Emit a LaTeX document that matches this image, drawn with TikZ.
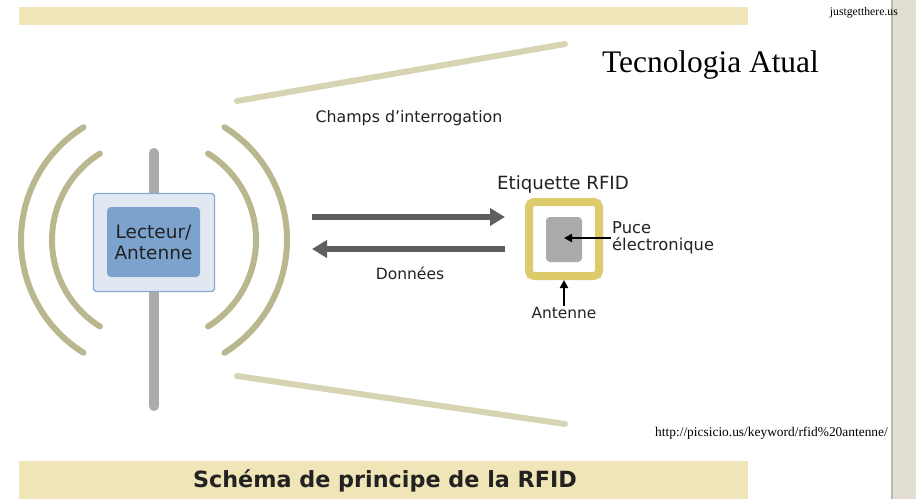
\documentclass[tikz,border=0pt]{standalone}
\usepackage{fontspec}
\setmainfont{Liberation Serif}
\newfontfamily\labfont{DejaVu Sans}
\usetikzlibrary{arrows.meta}

\definecolor{bandyellow}{HTML}{EFE5B7}
\definecolor{beam}{HTML}{D7D4B4}
\definecolor{wave}{HTML}{B8B78E}
\definecolor{polegray}{HTML}{ABABAB}
\definecolor{readerout}{HTML}{E2E8F2}
\definecolor{readerline}{HTML}{84A9D4}
\definecolor{readerin}{HTML}{7CA3CD}
\definecolor{arrowgray}{HTML}{5F5F5F}
\definecolor{tagyellow}{HTML}{DDCB6B}
\definecolor{chipgray}{HTML}{ABABAB}
\definecolor{sidebar}{HTML}{E3DED3}
\definecolor{sideedge}{HTML}{BDB8AD}
\definecolor{ink}{HTML}{222222}

\tikzset{
  sanslabel/.style={font=\labfont\fontsize{#1}{#1}\selectfont, text=ink, inner sep=1pt},
  beamline/.style={beam, line width=6, line cap=round},
  waveline/.style={wave, line width=6, line cap=round},
  flowarrow/.style={arrowgray, line width=6,
    -{Triangle[length=15pt,width=17pt]}, shorten >=-2pt},
  pointer/.style={black, line width=2.2, -{Triangle[length=8pt,width=8pt]}},
}

\begin{document}
\begin{tikzpicture}[x=1pt,y=-1pt]
\useasboundingbox (0,0) rectangle (916,499);
\fill[white] (0,0) rectangle (916,499);

% header and footer bands
\fill[bandyellow] (19,7) rectangle (748,25);
\fill[bandyellow] (19,461) rectangle (748,499);

% right margin bar
\fill[sidebar] (891,0) rectangle (916,499);
\fill[sideedge] (891,0) rectangle (893,499);

\node[font=\fontsize{11.7}{13}\selectfont, anchor=east, inner sep=0pt] (site) at (898,13) {justgetthere.us};
\node[font=\fontsize{31.4}{36}\selectfont, inner sep=0pt] (title) at (710.5,65) {Tecnologia Atual};

% interrogation field borders
\draw[beamline] (237,101) -- (565,44);
\draw[beamline] (237,376) -- (565,424);
\node[sanslabel=15.8] (field) at (409,118) {Champs d’interrogation};

% radiated waves around the reader
\coordinate (wc) at (154,240);
\draw[waveline] (wc) ++(122:133pt) arc[start angle=122, end angle=238, radius=133pt];
\draw[waveline] (wc) ++(-58:133pt) arc[start angle=-58, end angle=58, radius=133pt];
\draw[waveline] (wc) ++(122:102pt) arc[start angle=122, end angle=238, radius=102pt];
\draw[waveline] (wc) ++(-58:102pt) arc[start angle=-58, end angle=58, radius=102pt];

% reader mast and box
\coordinate (mtop) at (154,153);
\coordinate (mbot) at (154,406);
\draw[polegray, line width=10, line cap=round] (mtop) -- (mbot);
\node[draw=readerline, fill=readerout, line width=1.3, rounded corners=3,
      minimum width=121, minimum height=98] (reader) at (154,242.5) {};
\node[fill=readerin, rounded corners=4, minimum width=93, minimum height=70,
      font=\labfont\fontsize{18.5}{21}\selectfont, text=ink, align=center]
      (readerin) at (153.5,242) {Lecteur/\\Antenne};

% exchanges between reader and tag
\coordinate (q1) at (312,217);
\coordinate (q2) at (503,217);
\coordinate (r1) at (505,249);
\coordinate (r2) at (314,249);
\draw[flowarrow] (q1) -- (q2);
\draw[flowarrow] (r1) -- (r2);
\node[sanslabel=15.5] (data) at (410,273) {Données};

% RFID tag
\node[sanslabel=18.2] (tagtitle) at (563,184) {Etiquette RFID};
\node[draw=tagyellow, line width=8, rounded corners=5,
      minimum width=70, minimum height=74] (tag) at (564,239) {};
\node[fill=chipgray, rounded corners=4, minimum width=36, minimum height=45] (chip) at (564,239.5) {};

\node[sanslabel=16.3, anchor=west, align=left, font=\labfont\fontsize{16.3}{17}\selectfont]
      (puce) at (611,238) {Puce\\électronique};
\draw[pointer] (puce.west) -- (puce.west -| chip.center);

\node[sanslabel=15.4] (antlabel) at (564,313) {Antenne};
\draw[pointer] (antlabel.north) -- (tag.south);

% source
\node[font=\fontsize{13.4}{15}\selectfont, anchor=east, inner sep=0pt] (src) at (888,433)
      {http://picsicio.us/keyword/rfid\%20antenne/};

% caption
\node[font=\labfont\bfseries\fontsize{22.3}{26}\selectfont, text=ink] (caption) at (385,481)
      {Schéma de principe de la RFID};
\end{tikzpicture}
\end{document}
